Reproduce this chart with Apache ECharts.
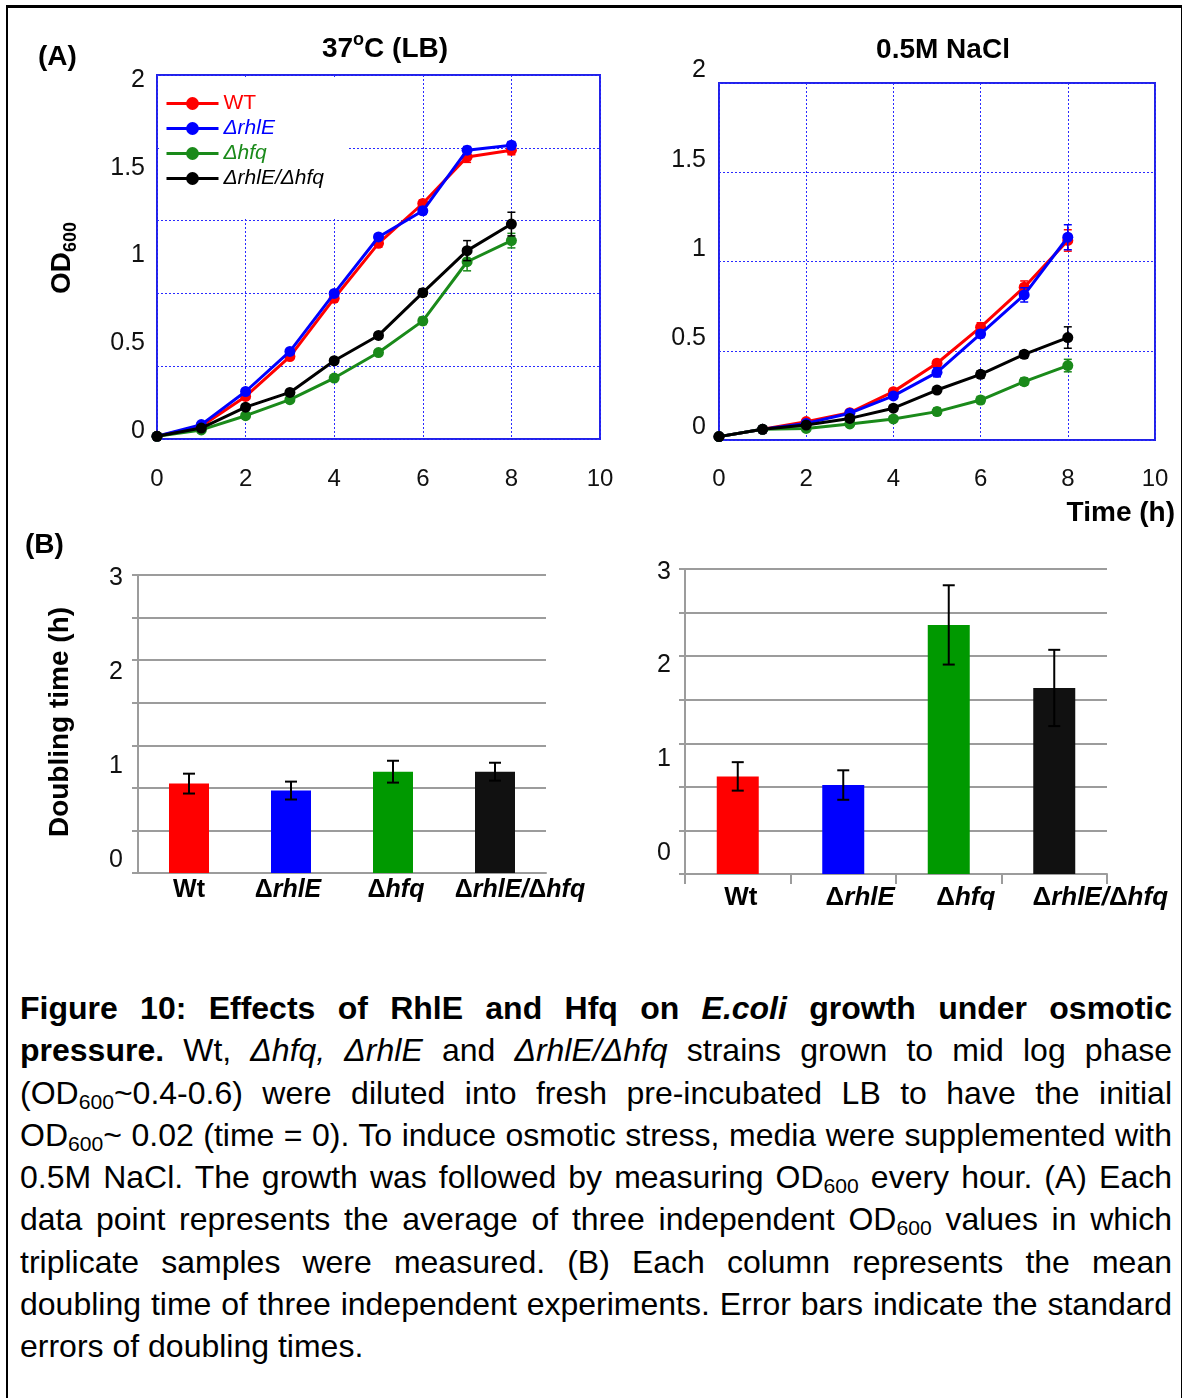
<!DOCTYPE html>
<html>
<head>
<meta charset="utf-8">
<title>Figure 10</title>
<script src="https://cdn.jsdelivr.net/npm/echarts@6.0.0/dist/echarts.min.js"></script>
<style>
  html, body { margin: 0; padding: 0; background: #fff; width: 1182px; height: 1398px; overflow: hidden; }
  #frame { position: absolute; left: 6px; top: 5px; width: 1173px; height: 1420px;
           border-left: 2px solid #000; border-top: 3px solid #000; border-right: 2px solid #000; }
  #chart { position: absolute; left: 0; top: 0; width: 1182px; height: 940px; }
  #caption { position: absolute; left: 20px; top: 987px; width: 1152px;
             font-family: 'Liberation Sans', Arial, sans-serif; font-size: 32px; line-height: 42.3px; color: #000; }
  #caption div { text-align: justify; text-align-last: justify; white-space: nowrap; }
  #caption div.last { text-align-last: left; }
  #caption sub { font-size: 0.66em; vertical-align: -0.22em; line-height: 0; }
</style>
</head>
<body>
<div id="frame"></div>
<div id="chart"></div>
<div id="caption">
  <div><b>Figure 10: Effects of RhlE and Hfq on <i>E.coli</i> growth under osmotic</b></div>
  <div><b>pressure.</b> Wt, <i>Δhfq,</i> <i>ΔrhlE</i> and <i>ΔrhlE/Δhfq</i> strains grown to mid log phase</div>
  <div>(OD<sub>600</sub>~0.4-0.6) were diluted into fresh pre-incubated LB to have the initial</div>
  <div>OD<sub>600</sub>~ 0.02 (time = 0). To induce osmotic stress, media were supplemented with</div>
  <div>0.5M NaCl. The growth was followed by measuring OD<sub>600</sub> every hour. (A) Each</div>
  <div>data point represents the average of three independent OD<sub>600</sub> values in which</div>
  <div>triplicate samples were measured. (B) Each column represents the mean</div>
  <div>doubling time of three independent experiments. Error bars indicate the standard</div>
  <div class="last">errors of doubling times.</div>
</div>
<script>
// ---- data ----
var hours = [0, 1, 2, 3, 4, 5, 6, 7, 8];
var strains = ['WT', 'ΔrhlE', 'Δhfq', 'ΔrhlE/Δhfq'];

// 37°C (LB), OD600
var lbWT      = [0.015, 0.07, 0.234, 0.453, 0.773, 1.075, 1.294, 1.55, 1.587];
var lbRhlE    = [0.015, 0.079, 0.261, 0.481, 0.80, 1.11, 1.254, 1.587, 1.614];
var lbHfq     = [0.015, 0.05, 0.128, 0.216, 0.335, 0.475, 0.649, 0.974, 1.09];
var lbDouble  = [0.015, 0.06, 0.175, 0.256, 0.43, 0.569, 0.804, 1.035, 1.181];
var lbWTErr     = [0, 0.005, 0.01, 0.015, 0.015, 0.02, 0.02, 0.03, 0.025];
var lbRhlEErr   = [0, 0.005, 0.01, 0.01, 0.015, 0.015, 0.02, 0.02, 0.02];
var lbHfqErr    = [0, 0.005, 0.01, 0.01, 0.01, 0.015, 0.02, 0.05, 0.04];
var lbDoubleErr = [0, 0.005, 0.01, 0.01, 0.01, 0.015, 0.02, 0.055, 0.065];

// 0.5M NaCl, OD600
var naclWT     = [0.019, 0.06, 0.103, 0.153, 0.271, 0.43, 0.632, 0.856, 1.118];
var naclRhlE   = [0.019, 0.06, 0.093, 0.15, 0.247, 0.379, 0.594, 0.813, 1.136];
var naclHfq    = [0.019, 0.06, 0.065, 0.09, 0.118, 0.159, 0.224, 0.327, 0.417];
var naclDouble = [0.019, 0.06, 0.084, 0.121, 0.178, 0.28, 0.368, 0.48, 0.574];
var naclWTErr     = [0, 0.005, 0.01, 0.01, 0.015, 0.02, 0.025, 0.035, 0.06];
var naclRhlEErr   = [0, 0.005, 0.01, 0.01, 0.015, 0.025, 0.02, 0.04, 0.07];
var naclHfqErr    = [0, 0.005, 0.005, 0.01, 0.01, 0.02, 0.02, 0.02, 0.035];
var naclDoubleErr = [0, 0.005, 0.01, 0.01, 0.015, 0.015, 0.02, 0.02, 0.06];

// doubling times (h)
var barCats = ['Wt', 'ΔrhlE', 'Δhfq', 'ΔrhlE/Δhfq'];
var lbDoubling      = [0.90, 0.83, 1.02, 1.02];
var lbDoublingErr   = [0.10, 0.09, 0.11, 0.09];
var naclDoubling    = [0.96, 0.875, 2.45, 1.83];
var naclDoublingErr = [0.14, 0.145, 0.39, 0.375];

var odTicks = [0, 0.5, 1, 1.5, 2];
var dtTicks = [0, 1, 2, 3];

// ---- styles ----
var FONT = "'Liberation Sans', Arial, sans-serif";
var lineColors = ['#ff0000', '#0000ff', '#1a8a1a', '#000000'];
var barColors = ['#ff0000', '#0000ff', '#009900', '#111111'];
var frameBlue = '#2222e6';
var gridBlue = '#2a2aff';
var gray = '#9c9c9c';
// horizontal nudges of the category labels (px), as in the picture
var lbLabelShift = [0, -3, 3, 25];
var naclLabelShift = [3, 17, 17, 46];

function errorBar(capHalf, width) {
  return function (params, api) {
    var x = api.value(0), v = api.value(1), e = api.value(2);
    var top = api.coord([x, v + e]);
    var bot = api.coord([x, v - e]);
    var st = { stroke: api.visual('color'), lineWidth: width };
    return {
      type: 'group',
      children: [
        { type: 'line', shape: { x1: top[0], y1: top[1], x2: bot[0], y2: bot[1] }, style: st },
        { type: 'line', shape: { x1: top[0] - capHalf, y1: top[1], x2: top[0] + capHalf, y2: top[1] }, style: st },
        { type: 'line', shape: { x1: bot[0] - capHalf, y1: bot[1], x2: bot[0] + capHalf, y2: bot[1] }, style: st }
      ]
    };
  };
}

var series = [];
function addGrowth(axisIdx, yIdx, sets, errs) {
  sets.forEach(function (vals, i) {
    series.push({
      name: strains[i], type: 'line', xAxisIndex: axisIdx, yAxisIndex: yIdx,
      data: hours.map(function (h, k) { return [h, vals[k]]; }),
      symbol: 'circle', symbolSize: 11, showSymbol: true,
      lineStyle: { width: 3, color: lineColors[i] },
      itemStyle: { color: lineColors[i] },
      z: 2 + i, silent: true
    });
    series.push({
      name: strains[i] + ' error', type: 'custom', xAxisIndex: axisIdx, yAxisIndex: yIdx,
      renderItem: errorBar(4, 1.5),
      encode: { x: 0, y: 1 },
      data: hours.map(function (h, k) { return [h, vals[k], errs[i][k]]; }),
      itemStyle: { color: lineColors[i] },
      z: 3 + i, silent: true
    });
  });
}
addGrowth(0, 0, [lbWT, lbRhlE, lbHfq, lbDouble], [lbWTErr, lbRhlEErr, lbHfqErr, lbDoubleErr]);
addGrowth(1, 2, [naclWT, naclRhlE, naclHfq, naclDouble], [naclWTErr, naclRhlEErr, naclHfqErr, naclDoubleErr]);

function addBars(xIdx, yIdx, vals, errs, bw) {
  series.push({
    type: 'bar', xAxisIndex: xIdx, yAxisIndex: yIdx, barWidth: bw, silent: true,
    data: vals.map(function (v, k) { return { value: v, itemStyle: { color: barColors[k] } }; })
  });
  series.push({
    type: 'custom', xAxisIndex: xIdx, yAxisIndex: yIdx, silent: true,
    renderItem: errorBar(6, 2), encode: { x: 0, y: 1 },
    data: vals.map(function (v, k) { return [k, v, errs[k]]; }),
    itemStyle: { color: '#000' }, z: 5
  });
}
addBars(2, 4, lbDoubling, lbDoublingErr, 40);
addBars(3, 7, naclDoubling, naclDoublingErr, 42);

var tickLabel = { fontSize: 24, color: '#111', fontFamily: FONT };
var dotted = { type: [2, 2], color: gridBlue, width: 1 };

function valueX(grid, margin) {
  return {
    gridIndex: grid, type: 'value', min: 0, max: 10, interval: 2,
    axisLine: { show: false }, axisTick: { show: false },
    splitLine: { show: true, lineStyle: dotted },
    axisLabel: Object.assign({ margin: margin }, tickLabel)
  };
}

function catRich(size) {
  var base = { fontSize: size, fontWeight: 'bold', color: '#000', fontFamily: FONT };
  return {
    n: base,
    d: base,
    i: Object.assign({}, base, { fontStyle: 'italic' })
  };
}
function catFormatter(shifts) {
  return function (v, idx) {
    var txt;
    if (v.indexOf('Δ') < 0) txt = '{n|' + v + '}';
    else txt = v.split('/').map(function (p) { return '{d|Δ}{i|' + p.slice(1) + '}'; }).join('{i|/}');
    var s = shifts[idx] || 0;
    var pad = '{p' + idx + '| }';
    return s >= 0 ? pad + txt : txt + pad;
  };
}
function catX(grid, margin, ticks, shifts, size) {
  var rich = catRich(size);
  shifts.forEach(function (s, k) { rich['p' + k] = { width: Math.abs(s) * 2, fontSize: size }; });
  return {
    gridIndex: grid, type: 'category', data: barCats,
    axisLine: { show: true, lineStyle: { color: gray, width: 2 } },
    axisTick: { show: ticks, length: 10, interval: 0, lineStyle: { color: gray, width: 2 } },
    axisLabel: { interval: 0, margin: margin, formatter: catFormatter(shifts), rich: rich }
  };
}
function hidden(grid, mn, mx) {
  return {
    gridIndex: grid, type: 'value', position: 'left', min: mn, max: mx,
    axisLine: { show: false }, axisTick: { show: false }, axisLabel: { show: false }, splitLine: { show: false }
  };
}
function labelAxis(grid, mn, mx, values, margin) {
  return {
    gridIndex: grid, type: 'value', position: 'left', min: mn, max: mx,
    axisLine: { show: false }, axisTick: { show: false }, splitLine: { show: false },
    axisLabel: Object.assign({ customValues: values, margin: margin }, tickLabel, { fontSize: 25 })
  };
}
function grayGridAxis(grid) {
  return {
    gridIndex: grid, type: 'value', position: 'left', min: 0, max: 7, interval: 1,
    axisLine: { show: true, lineStyle: { color: gray, width: 2 } },
    axisTick: { show: true, length: 6, lineStyle: { color: gray, width: 2 } },
    axisLabel: { show: false },
    splitLine: { show: true, lineStyle: { color: gray, width: 2 } }
  };
}

var chart = echarts.init(document.getElementById('chart'), null, { renderer: 'canvas' });
chart.setOption({
  animation: false,
  backgroundColor: 'transparent',
  textStyle: { fontFamily: FONT },
  grid: [
    { left: 157, top: 75, width: 443, height: 364, show: true, borderColor: frameBlue, borderWidth: 2, backgroundColor: 'transparent', containLabel: false, outerBoundsMode: 'none' },
    { left: 719, top: 83, width: 436, height: 357, show: true, borderColor: frameBlue, borderWidth: 2, backgroundColor: 'transparent', containLabel: false, outerBoundsMode: 'none' },
    { left: 138, top: 575, width: 408, height: 298, containLabel: false, outerBoundsMode: 'none' },
    { left: 685, top: 569, width: 422, height: 305, containLabel: false, outerBoundsMode: 'none' }
  ],
  xAxis: [
    valueX(0, 28),
    valueX(1, 27),
    catX(2, 5, false, lbLabelShift, 25),
    catX(3, 11, true, naclLabelShift, 26)
  ],
  yAxis: [
    // 0: 37°C grid/data axis
    { gridIndex: 0, type: 'value', position: 'left', min: 0, max: 2, interval: 0.4,
      axisLine: { show: false }, axisTick: { show: false }, axisLabel: { show: false },
      splitLine: { show: true, lineStyle: dotted } },
    // 1: 37°C tick labels
    labelAxis(0, -0.0456, 2.0285, odTicks, 12),
    // 2: NaCl axis
    { gridIndex: 1, type: 'value', position: 'left', min: 0, max: 2, interval: 0.5,
      axisLine: { show: false }, axisTick: { show: false },
      axisLabel: Object.assign({ margin: 13, verticalAlign: 'bottom' }, tickLabel, { fontSize: 25 }),
      splitLine: { show: true, lineStyle: dotted } },
    // 3-5: LB doubling time
    grayGridAxis(2),
    hidden(2, 0, 3),
    labelAxis(2, -0.1383, 3.032, dtTicks, 15),
    // 6-8: NaCl doubling time
    grayGridAxis(3),
    hidden(3, 0, 3),
    labelAxis(3, -0.224, 3.029, dtTicks, 14)
  ],
  legend: {
    left: 160, top: 77, orient: 'vertical', selectedMode: false,
    backgroundColor: '#fff', padding: [16, 24, 30, 5],
    itemWidth: 52, itemHeight: 16, itemGap: 4,
    lineStyle: { width: 3 },
    textStyle: { fontSize: 21, fontFamily: FONT },
    data: [
      { name: 'WT', textStyle: { color: '#ff0000' } },
      { name: 'ΔrhlE', textStyle: { color: '#0000ff', fontStyle: 'italic' } },
      { name: 'Δhfq', textStyle: { color: '#1a8a1a', fontStyle: 'italic' } },
      { name: 'ΔrhlE/Δhfq', textStyle: { color: '#000', fontStyle: 'italic' } }
    ]
  },
  graphic: [
    { type: 'text', x: 38, y: 57, style: { text: '(A)', font: 'bold 28px ' + FONT, fill: '#000', textAlign: 'left', textVerticalAlign: 'middle' } },
    { type: 'text', x: 25, y: 545, style: { text: '(B)', font: 'bold 28px ' + FONT, fill: '#000', textAlign: 'left', textVerticalAlign: 'middle' } },
    { type: 'text', x: 385, y: 47, style: {
        text: '{a|37}{s|o}{a|C (LB)}', textAlign: 'center', textVerticalAlign: 'middle',
        rich: { a: { font: 'bold 28px ' + FONT, fill: '#000', lineHeight: 32, verticalAlign: 'bottom' },
                s: { font: 'bold 18px ' + FONT, fill: '#000', lineHeight: 32, verticalAlign: 'top' } } } },
    { type: 'text', x: 943, y: 50, style: { text: '0.5M NaCl', font: 'bold 28px ' + FONT, fill: '#000', textAlign: 'center', textVerticalAlign: 'middle' } },
    { type: 'text', x: 1175, y: 513, style: { text: 'Time (h)', font: 'bold 28px ' + FONT, fill: '#000', textAlign: 'right', textVerticalAlign: 'middle' } },
    { type: 'text', x: 62, y: 258, rotation: Math.PI / 2, style: {
        text: '{a|OD}{s|600}', textAlign: 'center', textVerticalAlign: 'middle',
        rich: { a: { font: 'bold 28px ' + FONT, fill: '#000', lineHeight: 36, verticalAlign: 'middle' },
                s: { font: 'bold 18px ' + FONT, fill: '#000', lineHeight: 36, verticalAlign: 'bottom' } } } },
    { type: 'text', x: 60, y: 722, rotation: Math.PI / 2, style: { text: 'Doubling time (h)', font: 'bold 28px ' + FONT, fill: '#000', textAlign: 'center', textVerticalAlign: 'middle' } }
  ],
  series: series
});
</script>
</body>
</html>
